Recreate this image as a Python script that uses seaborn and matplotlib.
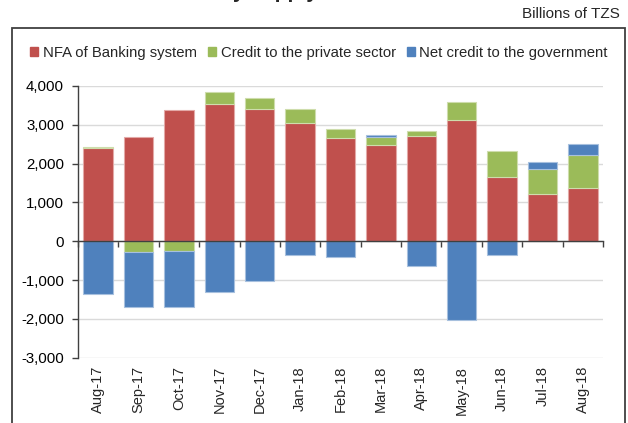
import numpy as np
import pandas as pd
import matplotlib
matplotlib.use("Agg")
import matplotlib.pyplot as plt
from matplotlib.patches import Rectangle
from matplotlib.ticker import FuncFormatter, FixedLocator
import seaborn as sns

months = ["Aug-17", "Sep-17", "Oct-17", "Nov-17", "Dec-17", "Jan-18", "Feb-18",
          "Mar-18", "Apr-18", "May-18", "Jun-18", "Jul-18", "Aug-18"]
nfa = [2390, 2685, 3380, 3535, 3400, 3055, 2665, 2475, 2720, 3130, 1660, 1225, 1360]
credit_private = [35, -275, -250, 320, 300, 350, 230, 215, 130, 455, 665, 625, 875]
credit_gov = [-1350, -1425, -1450, -1310, -1015, -355, -405, 35, -635, -2040, -345, 180, 265]

series_names = ["NFA of Banking system", "Credit to the private sector",
                "Net credit to the government"]
colors = ["#C0504D", "#9BBB59", "#4F81BD"]
edges = ["#E3A9A7", "#CEDDAC", "#A7C0DE"]

sns.set_theme(style="white")
plt.rcParams["font.family"] = ["Liberation Sans", "DejaVu Sans"]

fig = plt.figure(figsize=(6.28, 4.23), dpi=100)
ax = fig.add_axes([78 / 628, 1 - 357.7 / 423, 525 / 628, (357.7 - 86) / 423])

# Build a table and stack positives upward, negatives downward
df = pd.DataFrame({"month": months, series_names[0]: nfa,
                   series_names[1]: credit_private, series_names[2]: credit_gov})
pos_base = np.zeros(len(months))
neg_base = np.zeros(len(months))
for name, col, ec in zip(series_names, colors, edges):
    vals = df[name].to_numpy(dtype=float)
    base = np.where(vals >= 0, pos_base, neg_base)
    sns.barplot(x=df["month"], y=vals, bottom=base, color=col, edgecolor=ec,
                linewidth=0.8, width=0.73, ax=ax, label=name, zorder=3,
                saturation=1)
    pos_base += np.where(vals >= 0, vals, 0)
    neg_base += np.where(vals < 0, vals, 0)

ax.set_ylim(-3000, 4000)
ax.set_xlim(-0.5, len(months) - 0.5)
ax.set_yticks(np.arange(-3000, 4001, 1000))
ax.yaxis.set_major_formatter(FuncFormatter(lambda v, p: f"{int(v):,}"))
ax.grid(axis="y", color="#DADADA", linewidth=1.0, zorder=0)
ax.set_axisbelow(True)
ax.set_xlabel("")
ax.set_ylabel("")

for s in ["top", "right"]:
    ax.spines[s].set_visible(False)
ax.spines["left"].set_color("#404040")
ax.spines["left"].set_linewidth(1.0)
ax.spines["bottom"].set_position(("data", 0))
ax.spines["bottom"].set_color("#404040")
ax.spines["bottom"].set_linewidth(1.0)
ax.spines["bottom"].set_zorder(4)

ax.tick_params(axis="y", direction="out", length=4, width=1, color="#404040",
               labelsize=10.8, labelcolor="black", pad=6, left=True)
# Category boundary ticks on the zero line
ax.xaxis.set_major_locator(FixedLocator(np.arange(-0.5, len(months), 1.0)))
ax.tick_params(axis="x", direction="out", length=4, width=1, color="#404040",
               labelbottom=False, bottom=True)

# Month labels along the bottom of the plotting area
sec = ax.secondary_xaxis(-0.0)
sec.set_xticks(np.arange(len(months)))
sec.set_xticklabels(months, rotation=90)
sec.tick_params(axis="x", length=0, labelsize=10.5, pad=6)
sec.spines["bottom"].set_visible(False)

if ax.legend_:
    ax.legend_.remove()
handles = [plt.Rectangle((0, 0), 1, 1, color=c) for c in colors]
fig.legend(handles, series_names, loc="center", bbox_to_anchor=(0.508, 1 - 53 / 423),
           ncol=3, frameon=False, fontsize=10.7, handlelength=0.55, handleheight=0.55,
           handletextpad=0.3, columnspacing=0.75)

fig.text(620 / 628, 1 - 14 / 423, "Billions of TZS", ha="right", va="center",
         fontsize=11)
fig.text(318 / 628, 1 + 1.5 / 423, "Sources of money supply", ha="right",
         va="baseline", fontsize=15, fontweight="bold")

fig.patches.append(Rectangle((12 / 628, -0.05), 613 / 628, 1 - 28 / 423 + 0.05,
                             transform=fig.transFigure, fill=False,
                             edgecolor="#404040", linewidth=1.3))

fig.savefig("out.png", dpi=100)
